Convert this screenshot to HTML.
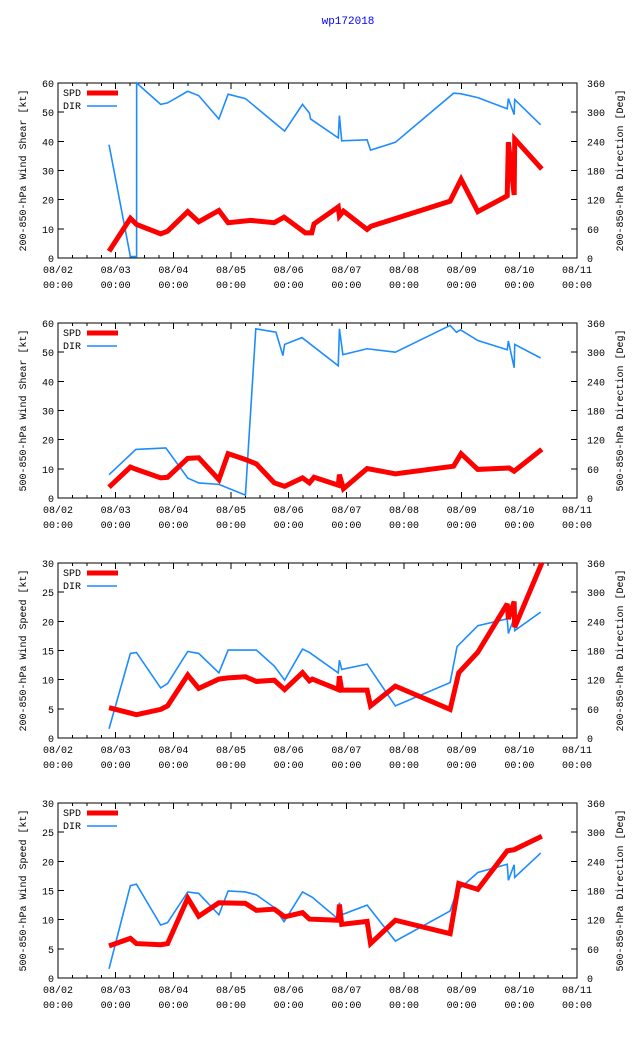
<!DOCTYPE html>
<html><head><meta charset="utf-8">
<style>
html,body{margin:0;padding:0;background:#fff;}
svg{display:block;}
text{font-family:"Liberation Mono","DejaVu Sans Mono",monospace;font-size:10px;fill:#000;}
</style></head>
<body>
<svg id="chart" width="640" height="1060" viewBox="0 0 640 1060" xmlns="http://www.w3.org/2000/svg">
<text x="348" y="24" text-anchor="middle" style="fill:#0000ff;font-size:11px">wp172018</text>
</svg>
<script>
// x tick labels (days from 08/02 00:00)
const xTickLabels = ["08/02","08/03","08/04","08/05","08/06","08/07","08/08","08/09","08/10","08/11"];
const leftTitles = ["200-850-hPa Wind Shear [kt]","500-850-hPa Wind Shear [kt]","200-850-hPa Wind Speed [kt]","500-850-hPa Wind Speed [kt]"];
const rightTitles = ["200-850-hPa Direction [Deg]","500-850-hPa Direction [Deg]","200-850-hPa Direction [Deg]","500-850-hPa Direction [Deg]"];
const spdMax = [60,60,30,30];
const dirTicks = [0,60,120,180,240,300,360];

// Panel 1 (200-850 shear)
const p1SpdT = [0.885,1.255,1.363,1.78,1.90,2.25,2.44,2.79,2.95,3.34,3.75,3.92,4.29,4.40,4.44,4.86,4.88,4.95,5.36,5.43,6.80,6.99,7.28,7.79,7.81,7.91,7.92,8.39];
const p1Spd  = [2.3,13.6,11.5,8.3,9.2,15.9,12.4,16.3,12.1,12.9,12.1,14.0,8.6,8.6,11.7,17.5,14.4,16.1,9.8,10.9,19.5,27.0,15.9,21.3,39.7,21.6,40.8,30.5];
const p1DirT = [0.885,1.255,1.363,1.364,1.78,1.90,2.25,2.44,2.79,2.95,3.25,3.93,4.24,4.36,4.38,4.86,4.88,4.92,5.36,5.42,5.85,6.86,6.98,7.28,7.79,7.81,7.91,7.92,8.37];
const p1Dir  = [233,3,3,360,316,319,343,334,286,337,328,261,316,298,286,247,293,241,243,222,238,339,338,330,307,328,295,326,274];
// Panel 2 (500-850 shear)
const p2SpdT = [0.885,1.255,1.36,1.78,1.90,2.25,2.44,2.79,2.95,3.25,3.44,3.75,3.93,4.24,4.36,4.44,4.86,4.88,4.95,5.36,5.85,6.86,6.99,7.28,7.82,7.91,8.39];
const p2Spd  = [3.7,10.6,9.8,6.9,7.1,13.6,13.8,6.3,15.2,13.2,11.7,5.2,4.0,6.9,5.2,7.1,4.4,8.0,3.2,10.1,8.3,10.9,15.2,9.8,10.3,9.2,16.7];
const p2DirT = [0.885,1.35,1.87,2.25,2.44,2.79,3.25,3.43,3.78,3.90,3.93,4.23,4.86,4.88,4.94,5.36,5.85,6.80,6.91,6.98,7.28,7.79,7.81,7.91,7.92,8.37];
const p2Dir  = [48,100,103,41,31,28,6,348,341,293,316,330,272,348,295,307,300,355,341,346,324,305,323,268,316,288];
// Panel 3 (200-850 wind speed)
const p3SpdT = [0.885,1.36,1.78,1.90,2.25,2.44,2.79,2.95,3.25,3.44,3.75,3.93,4.24,4.36,4.41,4.86,4.88,4.92,5.36,5.42,5.85,6.80,6.95,7.28,7.79,7.81,7.91,7.92,8.39];
const p3Spd  = [5.2,4.0,4.9,5.5,10.8,8.5,10.1,10.3,10.5,9.7,9.9,8.3,11.2,9.8,10.1,8.3,10.6,8.2,8.2,5.5,8.9,4.9,11.2,14.7,23.0,20.4,23.4,19.0,30];
const p3DirT = [0.885,1.255,1.36,1.78,1.90,2.25,2.44,2.79,2.95,3.44,3.75,3.93,4.24,4.36,4.86,4.88,4.92,5.36,5.85,6.80,6.92,7.28,7.79,7.81,7.91,7.92,8.37];
const p3Dir  = [19,174,176,103,112,178,174,134,181,181,148,119,183,176,134,160,141,152,66,114,188,231,245,215,247,221,259];
// Panel 4 (500-850 wind speed)
const p4SpdT = [0.885,1.255,1.36,1.78,1.90,2.25,2.44,2.79,3.25,3.44,3.75,3.93,4.24,4.36,4.86,4.88,4.92,5.36,5.42,5.85,6.80,6.95,7.28,7.79,7.91,8.39];
const p4Spd  = [5.5,6.8,5.9,5.7,5.9,13.7,10.6,12.9,12.8,11.6,11.8,10.5,11.2,10.1,9.9,12.6,9.2,9.7,5.9,9.9,7.6,16.2,15.2,21.8,22.0,24.3];
const p4DirT = [0.885,1.255,1.36,1.78,1.90,2.25,2.44,2.79,2.95,3.25,3.44,3.75,3.92,4.24,4.41,4.86,4.88,4.92,5.36,5.85,6.80,6.92,7.28,7.79,7.81,7.91,7.92,8.37];
const p4Dir  = [19,190,193,109,114,177,174,130,179,177,171,145,116,177,166,121,155,130,150,76,138,179,217,234,201,233,207,257];

const panels = [
  {spdT:p1SpdT,spd:p1Spd,dirT:p1DirT,dir:p1Dir,top:83},
  {spdT:p2SpdT,spd:p2Spd,dirT:p2DirT,dir:p2Dir,top:323},
  {spdT:p3SpdT,spd:p3Spd,dirT:p3DirT,dir:p3Dir,top:563},
  {spdT:p4SpdT,spd:p4Spd,dirT:p4DirT,dir:p4Dir,top:803}
];
const svg = document.getElementById('chart');
const NS = 'http://www.w3.org/2000/svg';
const L = 58, R = 577, H = 175;
function xs(d){ return L + d*(R-L)/9; }
function mk(tag, attrs, parent){
  const e = document.createElementNS(NS, tag);
  for (const k in attrs) e.setAttribute(k, attrs[k]);
  (parent||svg).appendChild(e); return e;
}
panels.forEach((p, i) => {
  const g = mk('g', {});
  
  
  const T = p.top, B = T + H, maxS = spdMax[i];
  const ys = v => B - v/maxS*H;
  const yd = v => B - v/360*H;
  // ticks
  let tk = '';
  for (let q = 0; q <= 36; q++) {
    const x = xs(q/4), len = q%4===0 ? 6 : 3;
    tk += `M${x},${B}v${-len}M${x},${T}v${len}`;
  }
  for (let k = 0; k <= 6; k++) {
    const y = B - k*H/6;
    tk += `M${L},${y}h6M${R},${y}h-6`;
  }
  const ticks = mk('path', {d: tk, stroke: '#000', 'stroke-width': 1, fill: 'none', 'shape-rendering': 'crispEdges'}, g);
  
  
  const frame = mk('rect', {x: L, y: T, width: R-L, height: H, fill: 'none', stroke: '#000', 'stroke-width': 1, 'shape-rendering': 'crispEdges'}, g);
  
  
  // y labels
  for (let k = 0; k <= 6; k++) {
    const v = maxS*k/6;
    const t = mk('text', {x: L-4, y: ys(v)+4, 'text-anchor': 'end'}, g);
    t.textContent = v;
    
    
  }
  dirTicks.forEach(v => {
    const t = mk('text', {x: R+10, y: yd(v)+4}, g);
    t.textContent = v;
    
    
  });
  xTickLabels.forEach((lab, k) => {
    const t = mk('text', {x: xs(k), y: B+15, 'text-anchor': 'middle'}, g);
    t.textContent = lab;
    
    
    const t2 = mk('text', {x: xs(k), y: B+30, 'text-anchor': 'middle'}, g);
    t2.textContent = '00:00';
    
    
  });
  const lt = mk('text', {x: 0, y: 0, 'text-anchor': 'middle', transform: `translate(26,${T+H/2}) rotate(-90)`}, g);
  lt.textContent = leftTitles[i];
  
  
  const rt = mk('text', {x: 0, y: 0, 'text-anchor': 'middle', transform: `translate(623,${T+H/2}) rotate(-90)`}, g);
  rt.textContent = rightTitles[i];
  
  
  // series
  const dPts = p.dirT.map((t, j) => xs(t) + ',' + yd(p.dir[j])).join(' ');
  const dl = mk('polyline', {points: dPts, fill: 'none', stroke: '#1e8cff', 'stroke-width': 1.6, 'stroke-linejoin': 'miter'}, g);
  
  
  const sPts = p.spdT.map((t, j) => xs(t) + ',' + ys(p.spd[j])).join(' ');
  const sl = mk('polyline', {points: sPts, fill: 'none', stroke: '#ff0000', 'stroke-width': 5, 'stroke-linejoin': 'miter', 'stroke-miterlimit': 3}, g);
  
  
  // legend
  const t1 = mk('text', {x: 63, y: T+13}, g);
  t1.textContent = 'SPD';
  
  
  const l1 = mk('line', {x1: 87, x2: 118, y1: T+10, y2: T+10, stroke: '#ff0000', 'stroke-width': 5}, g);
  
  
  const t2 = mk('text', {x: 63, y: T+26}, g);
  t2.textContent = 'DIR';
  
  
  const l2 = mk('line', {x1: 87, x2: 117, y1: T+23, y2: T+23, stroke: '#1e8cff', 'stroke-width': 1.6}, g);
  
  
});
</script>
</body></html>
